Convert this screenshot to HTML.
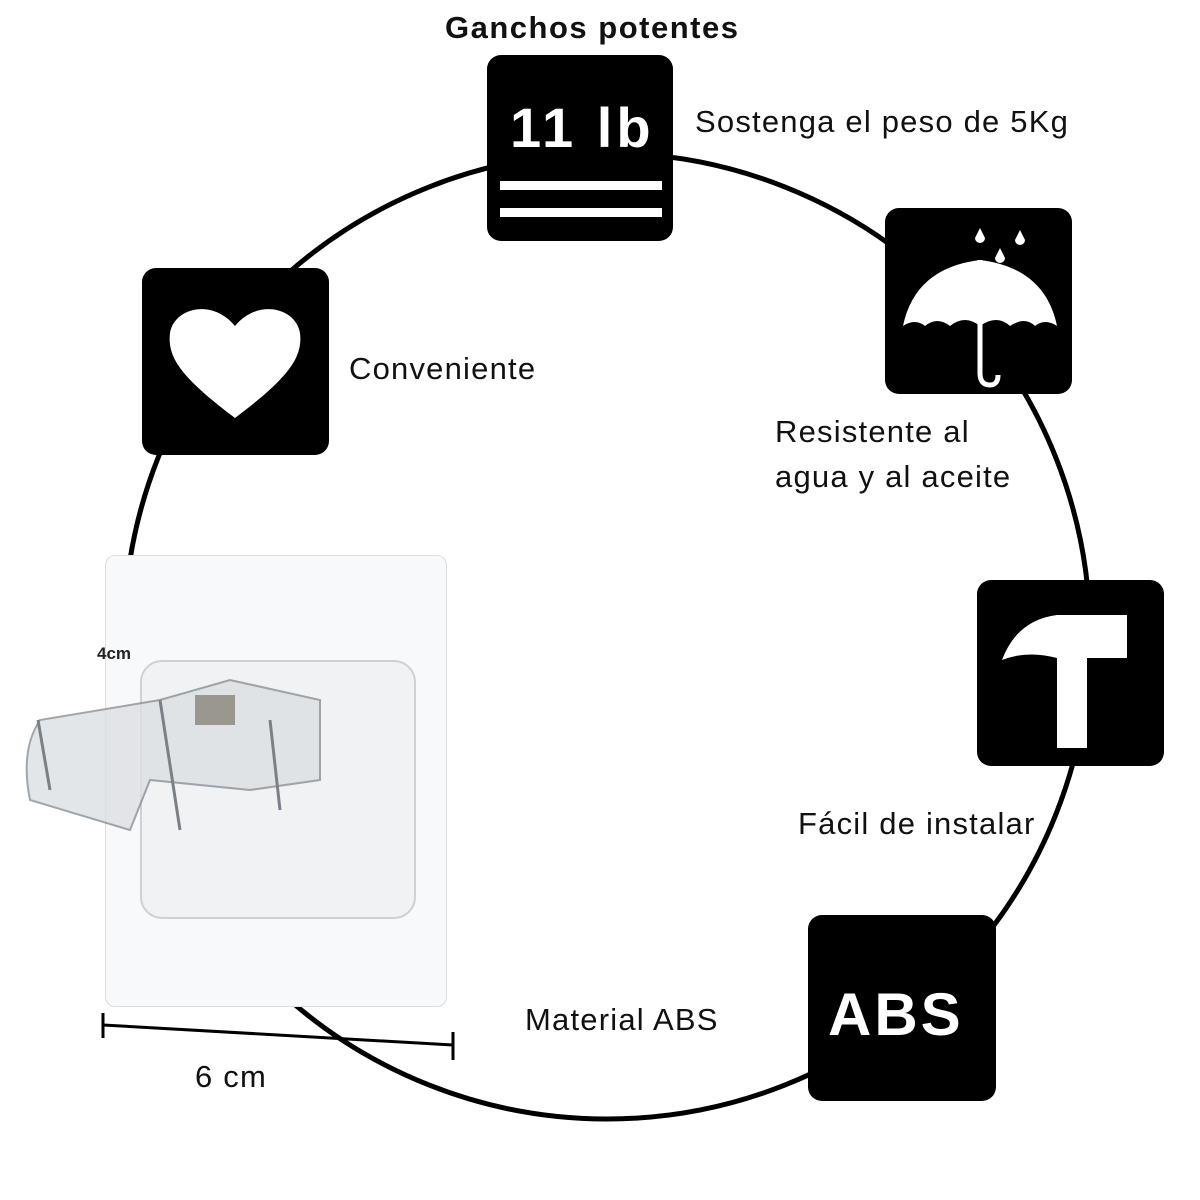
<!DOCTYPE html>
<html><head><meta charset="utf-8"><style>
body{margin:0;width:1200px;height:1200px;background:#fff;position:relative;overflow:hidden;font-family:"Liberation Sans",sans-serif;}
.t{position:absolute;font-size:31px;color:#111;white-space:nowrap;line-height:1.45;letter-spacing:1.2px}
.b{position:absolute;background:#000;border-radius:14px}
</style></head><body>
<svg width="1200" height="1200" style="position:absolute;left:0;top:0">
<circle cx="607" cy="636" r="483" fill="none" stroke="#000" stroke-width="5"/>
</svg>
<div class="t" style="left:445px;top:6px;font-weight:bold;font-size:31px;letter-spacing:1.5px">Ganchos potentes</div>
<div class="b" style="left:487px;top:55px;width:186px;height:186px"></div>
<div class="t" style="left:510px;top:100px;color:#fff;font-weight:bold;font-size:56px;line-height:1;letter-spacing:4px">11 lb</div>
<div style="position:absolute;left:500px;top:181px;width:162px;height:9px;background:#fff"></div>
<div style="position:absolute;left:500px;top:208px;width:162px;height:9px;background:#fff"></div>
<div class="t" style="left:695px;top:100px">Sostenga el peso de 5Kg</div>

<div class="b" style="left:885px;top:208px;width:187px;height:186px"></div>
<svg width="187" height="186" style="position:absolute;left:885px;top:208px">
<path d="M18 118 Q30 60 95 52 Q160 60 172 118 Q160 110 150 118 Q140 108 125 118 Q112 106 95 118 Q80 106 65 118 Q52 108 40 118 Q30 110 18 118Z" fill="#fff"/>
<path d="M95 52 V165 Q95 177 105 177 Q113 177 113 167" stroke="#fff" stroke-width="5" fill="none"/>
<path d="M95 20 l-5 10 a5 5 0 0 0 10 0z M115 40 l-5 10 a5 5 0 0 0 10 0z M135 22 l-5 10 a5 5 0 0 0 10 0z" fill="#fff"/>
</svg>
<div class="t" style="left:775px;top:410px">Resistente al<br>agua y al aceite</div>

<div class="b" style="left:142px;top:268px;width:187px;height:187px"></div>
<svg width="187" height="187" style="position:absolute;left:142px;top:268px">
<path d="M93 150 C40 110 25 90 28 65 C32 40 70 30 93 58 C116 30 154 40 158 65 C161 90 146 110 93 150Z" fill="#fff"/>
</svg>
<div class="t" style="left:349px;top:347px">Conveniente</div>

<div class="b" style="left:977px;top:580px;width:187px;height:186px"></div>
<svg width="187" height="186" style="position:absolute;left:977px;top:580px">
<path d="M25 80 Q40 40 80 35 L150 35 L150 78 L110 78 L110 168 L80 168 L80 78 Q50 70 25 80Z" fill="#fff"/>
</svg>
<div class="t" style="left:798px;top:802px">Fácil de instalar</div>

<div class="b" style="left:808px;top:915px;width:188px;height:186px"></div>
<div class="t" style="left:828px;top:985px;color:#fff;font-weight:bold;font-size:60px;line-height:1;letter-spacing:3px">ABS</div>
<div class="t" style="left:525px;top:998px">Material ABS</div>

<div style="position:absolute;left:105px;top:555px;width:340px;height:450px;background:#f8f9fa;border:1px solid #dcdee0;border-radius:10px"></div>
<div style="position:absolute;left:140px;top:660px;width:272px;height:255px;background:#f0f2f4;border:2px solid #cdd0d4;border-radius:22px"></div>
<svg width="450" height="300" style="position:absolute;left:0;top:640px">
<path d="M40 80 Q20 110 30 160 L130 190 L150 140 L250 150 L320 140 L320 60 L230 40 L160 60 Z" fill="#dde0e3" stroke="#8a9096" stroke-width="2" opacity="0.8"/>
<path d="M38 80 L50 150 M160 60 L180 190 M270 80 L280 170" stroke="#7a8086" stroke-width="3" fill="none"/>
<rect x="195" y="55" width="40" height="30" fill="#9a9690"/>
</svg>
<div class="t" style="left:97px;top:642px;font-size:17px;font-weight:bold;color:#222;letter-spacing:0">4cm</div>
<svg width="470" height="60" style="position:absolute;left:95px;top:1010px">
<path d="M8 15 L358 35 M8 3 V28 M358 22 V50" stroke="#000" stroke-width="3"/>
</svg>
<div class="t" style="left:195px;top:1055px">6 cm</div>
</body></html>
